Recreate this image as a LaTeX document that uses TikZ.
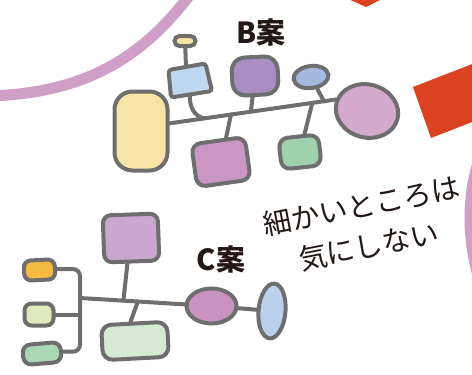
\documentclass[tikz,border=0pt]{standalone}
\usepackage{fontspec}
\newfontfamily\jpfont{Noto Sans CJK JP}
\usetikzlibrary{shapes,positioning,calc}

\definecolor{linegray}{HTML}{6E6E6E}
\definecolor{arcpurple}{HTML}{CF9FC8}
\definecolor{redbox}{HTML}{DB4320}
\definecolor{inkblack}{HTML}{231815}
\definecolor{byel}{HTML}{F9E4A7}
\definecolor{bblu}{HTML}{BDD8F0}
\definecolor{bvio}{HTML}{A98EC4}
\definecolor{bsky}{HTML}{A4B8E0}
\definecolor{bpnk}{HTML}{D5A8CD}
\definecolor{bmag}{HTML}{CA96C3}
\definecolor{bgrn}{HTML}{9FD2AC}
\definecolor{cvio}{HTML}{C9A7CE}
\definecolor{corg}{HTML}{F6BA43}
\definecolor{clim}{HTML}{DEE9BC}
\definecolor{cgrn}{HTML}{AAD8B5}
\definecolor{cpal}{HTML}{D5E9D5}
\definecolor{cpur}{HTML}{C892C1}
\definecolor{cblu}{HTML}{B9D1EC}

\begin{document}
\begin{tikzpicture}[x=1pt,y=-1pt,
  box/.style={draw=linegray, line width=4pt, rounded corners=8pt, inner sep=0pt},
  oval/.style={draw=linegray, line width=4pt, ellipse, inner sep=0pt},
  link/.style={draw=linegray, line width=4pt, line cap=round},
  band/.style={draw=arcpurple, line width=11pt},
  title/.style={font=\jpfont\bfseries\fontsize{29}{31}\selectfont, text=inkblack, inner sep=0pt}]

\useasboundingbox (0,0) rectangle (472,375);

% background pieces
\draw[band] (-10,96) .. controls (80,93) and (140,62) .. (192,-8);
\draw[band] (482,152) .. controls (466,192) and (466,242) .. (482,288);
\fill[redbox] (346,-2) -- (366,7) -- (384,-2) -- cycle;
\fill[redbox] (413,87) -- (480,61) -- (498,112) -- (431,138) -- cycle;

% B plan
\node[title] (blabel) at (261,32) {B案};

\node[box, rounded corners=18pt, fill=byel, minimum width=53, minimum height=79] (byellow) at (141,131) {};
\node[box, rounded corners=5pt, fill=byel, minimum width=21, minimum height=10] (bpill) at (185,41) {};
\filldraw[draw=linegray, line width=4pt, fill=bblu, rounded corners=3pt]
  (168.5,70) -- (205.5,63.5) -- (212,91) -- (171,97.5) -- cycle;
\coordinate (bbluetop) at (186,66.5);
\coordinate (bbluebot) at (190,95);
\node[box, rounded corners=13pt, fill=bvio, minimum width=46, minimum height=38, rotate=3] (bviolet) at (255,76) {};
\node[oval, fill=bsky, minimum width=35, minimum height=22, rotate=8] (bsky) at (311,77) {};
\node[oval, fill=bpnk, minimum width=63, minimum height=53, rotate=-15] (bpink) at (367,111) {};
\node[box, rounded corners=9pt, fill=bmag, minimum width=54, minimum height=43, rotate=8] (bmagenta) at (221,162) {};
\node[box, rounded corners=9pt, fill=bgrn, minimum width=40, minimum height=31, rotate=6] (bgreen) at (300,152) {};

\coordinate (bm1) at ($(byellow.15)!0.21!(bpink.175)$);
\coordinate (bm2) at ($(byellow.15)!0.37!(bpink.175)$);
\coordinate (bm3) at ($(byellow.15)!0.49!(bpink.175)$);
\coordinate (bm4) at ($(byellow.15)!0.86!(bpink.175)$);
\coordinate (bm5) at ($(byellow.15)!0.93!(bpink.175)$);

\draw[link] (byellow.15) -- (bpink.175);
\draw[link] (bpill) -- (bbluetop);
\draw[link] (bbluebot) to[out=-95,in=170] (bm1);
\draw[link] (bmagenta) -- (bm2);
\draw[link] (bviolet) -- (bm3);
\draw[link] (bgreen) -- (bm4);
\draw[link] (bsky) -- (bm5);

% C plan
\node[title] (clabel) at (221,259) {C案};

\node[box, rounded corners=8pt, fill=cvio, minimum width=55, minimum height=47, rotate=2] (cviolet) at (131,238) {};
\node[box, rounded corners=7pt, fill=corg, minimum width=31, minimum height=20, rotate=3] (corange) at (39.5,270) {};
\node[box, rounded corners=7pt, fill=clim, minimum width=29, minimum height=22] (clime) at (39,314.5) {};
\node[box, rounded corners=8pt, fill=cgrn, minimum width=38, minimum height=20, rotate=5] (cgreen) at (42,353.5) {};
\node[box, rounded corners=10pt, fill=cpal, minimum width=66, minimum height=35, rotate=3] (cpale) at (135,341) {};
\node[oval, fill=cpur, minimum width=50, minimum height=35] (cpurple) at (211.5,306) {};
\node[oval, fill=cblu, minimum width=27, minimum height=55, rotate=-5] (cblue) at (272,311) {};

\coordinate (cbar) at (80,298);
\coordinate (c1) at ($(cbar)!0.33!(cpurple)$);
\coordinate (c2) at ($(cbar)!0.44!(cpurple)$);

\draw[link, rounded corners=7pt] (corange.east) -| (cbar) |- (cgreen.east);
\draw[link] (clime.east) -- (clime.east -| cbar);
\draw[link] (cbar) -- (cpurple);
\draw[link] (cviolet.-100) -- (c1);
\draw[link] (c2) -- (cpale.100);
\draw[link] (cpurple) -- (cblue);

% note
\node[rotate=11, align=center, inner sep=0pt, text=inkblack,
      font=\jpfont\fontsize{28.5}{41}\selectfont] (note) at (365,226) {細かいところは\\気にしない};

\end{tikzpicture}
\end{document}
